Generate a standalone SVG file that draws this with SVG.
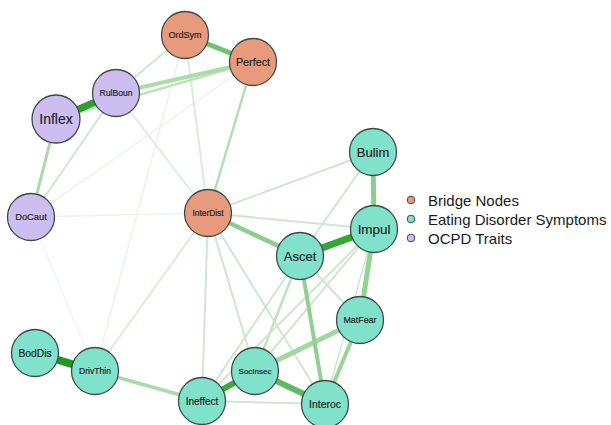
<svg xmlns="http://www.w3.org/2000/svg" width="611" height="425" viewBox="0 0 611 425">
<style>
.n circle{stroke:#3d4a45;stroke-width:1.3}
.br circle{fill:#E89B7C}
.ed circle{fill:#80E2CB}
.oc circle{fill:#CDBEF1}
.n text{font-family:"Liberation Sans",Arial,sans-serif;fill:#262626;text-anchor:middle;dominant-baseline:central;stroke:#262626;stroke-width:0.2}
#edges line{stroke-linecap:butt}
.s{stroke:#2FA22F}
.m{stroke:#93D193}
.l{stroke:#CDE9CD;stroke-width:2}
.f{stroke:#EAF4EA;stroke-width:1.5}
.lg{font-family:"Liberation Sans",Arial,sans-serif;font-size:15px;fill:#1a1a1a}
.lgc{stroke:#444;stroke-width:1}
</style>
<rect width="611" height="425" fill="#ffffff"/>
<g id="edges">
<line class="f" x1="185" y1="35" x2="95" y2="371"/>
<line class="f" x1="253" y1="62" x2="31" y2="217"/>
<line class="f" x1="31" y1="217" x2="208" y2="213"/>
<line class="f" x1="31" y1="217" x2="95" y2="371" style="stroke:#F0F7F0"/>
<line class="l" x1="185" y1="35" x2="116" y2="93"/>
<line class="l" x1="116" y1="93" x2="31" y2="217"/>
<line class="l" x1="185" y1="35" x2="208" y2="213" style="stroke:#D9EED9"/>
<line class="l" x1="116" y1="93" x2="208" y2="213" style="stroke:#DCEFDC"/>
<line class="l" x1="208" y1="213" x2="373" y2="152"/>
<line class="l" x1="208" y1="213" x2="374" y2="229"/>
<line class="l" x1="208" y1="213" x2="202" y2="401"/>
<line class="l" x1="208" y1="213" x2="255" y2="371"/>
<line class="l" x1="208" y1="213" x2="325" y2="404"/>
<line class="l" x1="208" y1="213" x2="95" y2="371" style="stroke:#D9EED9"/>
<line class="l" x1="373" y1="152" x2="300" y2="256"/>
<line class="l" x1="300" y1="256" x2="255" y2="371" style="stroke-width:2.5;stroke:#BEE2BE"/>
<line class="l" x1="300" y1="256" x2="202" y2="401"/>
<line class="l" x1="300" y1="256" x2="360" y2="320"/>
<line class="l" x1="374" y1="229" x2="255" y2="371"/>
<line class="l" x1="374" y1="229" x2="202" y2="401"/>
<line class="l" x1="374" y1="229" x2="325" y2="404" style="stroke-width:1.5"/>
<line class="l" x1="202" y1="401" x2="325" y2="404"/>
<line class="m" x1="253" y1="62" x2="56" y2="119" style="stroke-width:2.5;stroke:#BDE3BD"/>
<line class="m" x1="253" y1="62" x2="208" y2="213" style="stroke-width:2.5;stroke:#B3DEB3"/>
<line class="m" x1="253" y1="62" x2="116" y2="93" style="stroke-width:4;stroke:#ABDDAB"/>
<line class="m" x1="56" y1="119" x2="31" y2="217" style="stroke-width:3;stroke:#ABD9AB"/>
<line class="m" x1="95" y1="371" x2="202" y2="401" style="stroke-width:3.5;stroke:#A9DAA9"/>
<line class="m" x1="360" y1="320" x2="325" y2="404" style="stroke-width:4;stroke:#9BD49B"/>
<line class="m" x1="360" y1="320" x2="255" y2="371" style="stroke-width:5;stroke:#A3D8A3"/>
<line class="m" x1="300" y1="256" x2="325" y2="404" style="stroke-width:4;stroke:#92CF92"/>
<line class="m" x1="208" y1="213" x2="300" y2="256" style="stroke-width:4.5;stroke:#8DCC8D"/>
<line class="m" x1="374" y1="229" x2="360" y2="320" style="stroke-width:5;stroke:#94D394"/>
<line class="m" x1="373" y1="152" x2="374" y2="229" style="stroke-width:5;stroke:#8CCF8C"/>
<line class="s" x1="255" y1="371" x2="325" y2="404" style="stroke-width:6;stroke:#62B962"/>
<line class="s" x1="185" y1="35" x2="253" y2="62" style="stroke-width:5;stroke:#6DC26D"/>
<line class="s" x1="255" y1="371" x2="202" y2="401" style="stroke-width:6;stroke:#3CAA3C"/>
<line class="s" x1="300" y1="256" x2="374" y2="229" style="stroke-width:7;stroke:#33A633"/>
<line class="s" x1="35" y1="353" x2="95" y2="371" style="stroke-width:8;stroke:#1F9A1F"/>
<line class="s" x1="116" y1="93" x2="56" y2="119" style="stroke-width:7;stroke:#2EA02E"/>
</g>
<g id="OrdSym" class="n br"><circle cx="185" cy="35" r="23.5"/><text x="185" y="35" font-size="9">OrdSym</text></g>
<g id="Perfect" class="n br"><circle cx="253" cy="62" r="23.5"/><text x="253" y="62" font-size="10.8">Perfect</text></g>
<g id="RulBoun" class="n oc"><circle cx="116" cy="93" r="23.5"/><text x="116" y="93" font-size="8.6">RulBoun</text></g>
<g id="Inflex" class="n oc"><circle cx="56" cy="119" r="24"/><text x="56" y="119" font-size="14">Inflex</text></g>
<g id="DoCaut" class="n oc"><circle cx="31" cy="217" r="23.5"/><text x="31" y="217" font-size="9.3">DoCaut</text></g>
<g id="InterDist" class="n br"><circle cx="208" cy="213" r="23.5"/><text x="208" y="213" font-size="8.4">InterDist</text></g>
<g id="Bulim" class="n ed"><circle cx="373" cy="152" r="23.5"/><text x="373" y="152" font-size="13">Bulim</text></g>
<g id="Impul" class="n ed"><circle cx="374" cy="229" r="23.5"/><text x="374" y="229" font-size="13.4">Impul</text></g>
<g id="Ascet" class="n ed"><circle cx="300" cy="256" r="23.5"/><text x="300" y="256" font-size="13">Ascet</text></g>
<g id="MatFear" class="n ed"><circle cx="360" cy="320" r="23.5"/><text x="360" y="320" font-size="8.9">MatFear</text></g>
<g id="SocInsec" class="n ed"><circle cx="255" cy="371" r="23.5"/><text x="255" y="371" font-size="8">SocInsec</text></g>
<g id="Ineffect" class="n ed"><circle cx="202" cy="401" r="23.5"/><text x="202" y="401" font-size="10">Ineffect</text></g>
<g id="Interoc" class="n ed"><circle cx="325" cy="404" r="23.5"/><text x="325" y="404" font-size="10.4">Interoc</text></g>
<g id="BodDis" class="n ed"><circle cx="35" cy="353" r="23.5"/><text x="35" y="353" font-size="10.3">BodDis</text></g>
<g id="DrivThin" class="n ed"><circle cx="95" cy="371" r="23.5"/><text x="95" y="371" font-size="8.6">DrivThin</text></g>
<g id="legend">
<circle class="lgc" cx="411" cy="200" r="3.8" fill="#E89B7C"/>
<circle class="lgc" cx="411" cy="219" r="3.8" fill="#80E2CB"/>
<circle class="lgc" cx="411" cy="238" r="3.8" fill="#CDBEF1"/>
<text class="lg" x="428" y="205.5">Bridge Nodes</text>
<text class="lg" x="428" y="224.5">Eating Disorder Symptoms</text>
<text class="lg" x="428" y="243.5">OCPD Traits</text>
</g>
</svg>
